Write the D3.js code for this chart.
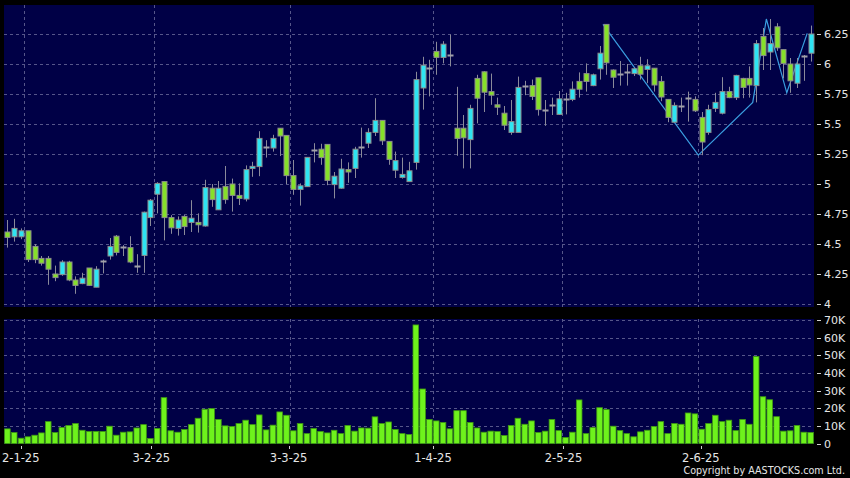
<!DOCTYPE html>
<html><head><meta charset="utf-8">
<script src="https://cdn.jsdelivr.net/npm/d3@7"></script>
<style>html,body{margin:0;padding:0;background:#000;}svg{display:block;}</style>
</head><body><svg id="c" width="850" height="478"></svg>
<script>
const dates = [
"27-12-24","30-12-24","31-12-24",
"2-1-25","3-1-25","6-1-25","7-1-25","8-1-25","9-1-25","10-1-25","13-1-25","14-1-25","15-1-25","16-1-25","17-1-25","20-1-25","21-1-25","22-1-25","23-1-25","24-1-25","27-1-25","28-1-25",
"3-2-25","4-2-25","5-2-25","6-2-25","7-2-25","10-2-25","11-2-25","12-2-25","13-2-25","14-2-25","17-2-25","18-2-25","19-2-25","20-2-25","21-2-25","24-2-25","25-2-25","26-2-25","27-2-25","28-2-25",
"3-3-25","4-3-25","5-3-25","6-3-25","7-3-25","10-3-25","11-3-25","12-3-25","13-3-25","14-3-25","17-3-25","18-3-25","19-3-25","20-3-25","21-3-25","24-3-25","25-3-25","26-3-25","27-3-25","28-3-25","31-3-25",
"1-4-25","2-4-25","3-4-25","7-4-25","8-4-25","9-4-25","10-4-25","11-4-25","14-4-25","15-4-25","16-4-25","17-4-25","22-4-25","23-4-25","24-4-25","25-4-25","28-4-25","29-4-25","30-4-25",
"2-5-25","6-5-25","7-5-25","8-5-25","9-5-25","12-5-25","13-5-25","14-5-25","15-5-25","16-5-25","19-5-25","20-5-25","21-5-25","22-5-25","23-5-25","26-5-25","27-5-25","28-5-25","29-5-25","30-5-25",
"2-6-25","3-6-25","4-6-25","5-6-25","6-6-25","9-6-25","10-6-25","11-6-25","12-6-25","13-6-25","16-6-25","17-6-25","18-6-25","19-6-25","20-6-25","23-6-25","24-6-25"];

const open = [4.60,4.56,4.56,4.61,4.48,4.38,4.38,4.25,4.245,4.35,4.20,4.17,4.30,4.14,4.36,4.40,4.565,4.475,4.47,4.32,
4.405,4.72,4.915,5.02,4.72,4.63,4.73,4.68,4.68,4.65,4.965,4.785,4.98,5.00,4.905,4.875,5.13,5.145,5.305,5.30,
5.465,5.405,5.07,4.955,4.978,5.285,5.29,5.33,4.995,4.965,5.12,5.13,5.305,5.34,5.43,5.53,5.355,5.115,5.055,5.02,
5.18,5.80,5.965,6.105,6.055,6.075,5.465,5.465,5.37,5.88,5.935,5.77,5.66,5.59,5.43,5.43,5.82,5.82,5.885,5.62,
5.655,5.58,5.71,5.705,5.855,5.92,5.82,5.96,6.33,5.95,5.915,5.93,5.92,5.985,5.955,5.965,5.855,5.705,5.515,5.65,
5.715,5.705,5.555,5.43,5.63,5.59,5.77,5.72,5.88,5.88,5.82,6.23,6.10,6.31,6.12,6.00,5.84,6.07,6.09];
const high = [4.70,4.71,4.63,4.61,4.50,4.40,4.40,4.32,4.365,4.36,4.23,4.26,4.30,4.315,4.37,4.55,4.575,4.49,4.565,4.415,
4.77,4.875,5.015,5.02,4.74,4.73,4.74,4.865,4.755,5.035,5.00,5.025,5.15,5.045,5.005,5.155,5.185,5.44,5.365,5.41,
5.465,5.405,5.20,5.005,5.222,5.34,5.335,5.33,5.10,5.21,5.18,5.31,5.47,5.465,5.715,5.53,5.355,5.27,5.22,5.185,
5.935,6.06,6.035,6.185,6.19,6.245,5.81,5.575,5.66,5.91,5.94,5.92,5.72,5.65,5.70,5.895,5.86,5.87,5.885,5.70,
5.72,5.775,5.76,5.855,5.93,6.005,5.92,6.15,6.33,5.955,6.025,6.00,5.97,6.06,6.04,5.965,5.90,5.705,5.68,5.72,
5.77,5.73,5.60,5.66,5.76,5.89,5.81,5.91,5.885,5.98,6.20,6.30,6.375,6.34,6.12,6.05,6.05,6.075,6.32];
const low = [4.47,4.52,4.54,4.35,4.34,4.32,4.16,4.19,4.235,4.19,4.085,4.165,4.15,4.14,4.255,4.37,4.405,4.40,4.34,4.26,
4.26,4.65,4.755,4.53,4.585,4.57,4.575,4.60,4.595,4.645,4.81,4.785,4.835,4.77,4.825,4.855,5.06,5.065,5.22,5.27,
5.233,5.00,4.91,4.82,4.978,5.18,5.16,4.99,4.88,4.96,5.01,5.05,5.22,5.30,5.40,5.325,5.16,5.05,5.045,5.02,
5.12,5.62,5.73,5.91,6.005,5.98,5.235,5.13,5.13,5.505,5.60,5.66,5.575,5.45,5.41,5.43,5.74,5.70,5.57,5.485,
5.575,5.575,5.58,5.69,5.72,5.77,5.815,5.87,5.91,5.80,5.82,5.82,5.90,5.87,5.84,5.77,5.69,5.515,5.51,5.60,
5.52,5.60,5.24,5.41,5.60,5.58,5.715,5.70,5.715,5.72,5.68,5.95,5.95,6.11,5.88,5.76,5.80,5.86,6.02];
const close = [4.555,4.63,4.61,4.37,4.37,4.34,4.29,4.22,4.35,4.20,4.155,4.215,4.155,4.29,4.36,4.48,4.43,4.475,4.35,4.32,
4.765,4.865,5.005,4.72,4.635,4.70,4.645,4.715,4.66,4.97,4.87,4.965,4.87,4.905,4.88,5.12,5.147,5.38,5.305,5.38,
5.40,5.07,4.955,4.985,5.222,5.285,5.22,5.03,5.065,5.125,5.10,5.29,5.305,5.43,5.53,5.36,5.205,5.195,5.08,5.11,
5.87,5.99,5.965,6.055,6.165,6.075,5.38,5.385,5.63,5.715,5.765,5.74,5.64,5.49,5.52,5.805,5.82,5.73,5.62,5.62,
5.655,5.71,5.71,5.79,5.79,5.855,5.91,6.09,6.01,5.89,5.915,5.93,5.96,5.915,5.985,5.825,5.725,5.555,5.655,5.65,
5.715,5.61,5.35,5.62,5.68,5.77,5.72,5.905,5.805,5.825,6.17,6.07,6.17,6.135,6.005,5.86,6.00,6.07,6.25];
const volume = [8300,6200,3000,3800,4700,6000,12400,6200,9000,10200,11300,7500,6800,6800,6800,9800,4700,6400,6600,8800,
10700,2800,8500,26000,7200,6400,7900,10700,14300,19400,19800,13600,10000,9600,11300,13200,10700,16200,7700,10400,
17900,16000,7200,11300,5600,8500,6800,6000,7500,5600,10200,7000,8800,8700,15100,11300,12200,7900,5600,5100,
67200,30900,13600,12800,11900,8300,18600,18600,11900,8800,6400,7000,6800,4500,10200,14300,10900,12800,6200,7000,
13600,7300,3400,6400,24700,5600,9000,20300,19200,9800,7300,5600,3800,6600,7500,9600,12400,5600,11300,10900,
17300,16800,8100,11300,16000,12400,13200,7300,13600,10900,49300,26500,24800,15200,7000,7200,10200,6400,6200];
const priceTicks = [4,4.25,4.5,4.75,5,5.25,5.5,5.75,6,6.25];
const volTicks = [0,10000,20000,30000,40000,50000,60000,70000];
const zigzagIdx = [88,102,110,112,115,118];
const zigzagPrice = [6.33,5.24,5.68,6.375,5.76,6.255];

const svg = d3.select("#c");
const FONT = "DejaVu Sans, Verdana, sans-serif";
const n = dates.length;
const x = d3.scaleBand().domain(d3.range(n)).range([4, 814]);
const xLab = d3.scaleLinear().domain([0, n - 1]).range([0.1, 810.8]);
const yP = d3.scaleLinear().domain([4, 6.5]).range([304, 4]);
const yV = d3.scaleLinear().domain([0, 70000]).range([443.5, 320]);

svg.append("rect").attr("width", 850).attr("height", 478).attr("fill", "#000");
const pTop = 5, pBot = 307, vTop = 319, vBot = 444;
svg.append("rect").attr("x", 4).attr("y", pTop).attr("width", 810).attr("height", pBot - pTop).attr("fill", "#000046");
svg.append("rect").attr("x", 4).attr("y", vTop).attr("width", 810).attr("height", vBot - vTop).attr("fill", "#000046");

const monthIdx = d3.range(1, n).filter(i => dates[i].split("-")[1] !== dates[i - 1].split("-")[1]);
const gridCol = "#56568a";
svg.append("g").selectAll("line").data(priceTicks).join("line")
  .attr("x1", 4).attr("x2", 814).attr("y1", d => Math.round(yP(d)) + 0.5).attr("y2", d => Math.round(yP(d)) + 0.5)
  .attr("stroke", gridCol).attr("stroke-dasharray", "3,3");
svg.append("g").selectAll("line").data(volTicks.filter(d => d > 0)).join("line")
  .attr("x1", 4).attr("x2", 814).attr("y1", d => Math.round(yV(d)) + 0.5).attr("y2", d => Math.round(yV(d)) + 0.5)
  .attr("stroke", gridCol).attr("stroke-dasharray", "3,3");
[[pTop, pBot], [vTop, vBot]].forEach(([a, b]) => {
  svg.append("g").selectAll("line").data(monthIdx).join("line")
    .attr("x1", i => Math.round(x(i)) + 0.5).attr("x2", i => Math.round(x(i)) + 0.5)
    .attr("y1", a).attr("y2", b).attr("stroke", gridCol).attr("stroke-dasharray", "3,3");
});

svg.append("path")
  .datum(zigzagIdx.map((d, k) => [x(d), yP(zigzagPrice[k])]))
  .attr("d", d3.line()).attr("fill", "none").attr("stroke", "#3a9ee0").attr("stroke-width", 1.2);

const cx = i => Math.round(x(i) + x.bandwidth() / 2);
const g = svg.append("g");
const idx = d3.range(n);
g.selectAll("line.w").data(idx).join("line").attr("class", "w")
  .attr("x1", i => cx(i) + 0.5).attr("x2", i => cx(i) + 0.5)
  .attr("y1", i => yP(high[i])).attr("y2", i => yP(low[i]))
  .attr("stroke", "#8a8a9a").attr("stroke-width", 1);
const bw = 5;
g.selectAll("rect.b").data(idx.filter(i => Math.abs(close[i] - open[i]) >= 0.004)).join("rect").attr("class", "b")
  .attr("x", i => cx(i) - 2)
  .attr("y", i => yP(Math.max(open[i], close[i])))
  .attr("width", bw)
  .attr("height", i => Math.max(1, yP(Math.min(open[i], close[i])) - yP(Math.max(open[i], close[i]))))
  .attr("fill", i => close[i] > open[i] ? "#2ee4f2" : "#86e02a")
  .attr("stroke", "#8c8c8c").attr("stroke-width", 1);
g.selectAll("line.d").data(idx.filter(i => Math.abs(close[i] - open[i]) < 0.004)).join("line").attr("class", "d")
  .attr("x1", i => cx(i) - 2.5).attr("x2", i => cx(i) + 3.5)
  .attr("y1", i => Math.round(yP(close[i])) + 0.5).attr("y2", i => Math.round(yP(close[i])) + 0.5)
  .attr("stroke", "#a0a0a8").attr("stroke-width", 2);

svg.append("g").selectAll("rect").data(idx).join("rect")
  .attr("x", i => x(i) + 0.6).attr("width", x.bandwidth() - 1.2)
  .attr("y", i => yV(volume[i])).attr("height", i => yV(0) - yV(volume[i]))
  .attr("fill", "#6ef21c").attr("stroke", "#3f9a12").attr("stroke-width", 0.8);

const txt = "#e6e6e6";
const ra = svg.append("g").attr("font-family", FONT).attr("font-size", 11).attr("fill", txt);
priceTicks.forEach(v => {
  const y = Math.round(yP(v)) + 0.5;
  ra.append("line").attr("x1", 817).attr("x2", 821).attr("y1", y).attr("y2", y).attr("stroke", "#cfcfcf");
  ra.append("text").attr("x", 824).attr("y", y).attr("dy", "0.35em").text(String(v));
});
volTicks.forEach(v => {
  const y = Math.round(yV(v)) + 0.5;
  ra.append("line").attr("x1", 817).attr("x2", 821).attr("y1", y).attr("y2", y).attr("stroke", "#cfcfcf");
  ra.append("text").attr("x", 824).attr("y", y).attr("dy", "0.35em").text(v === 0 ? "0" : (v / 1000) + "K");
});

const da = svg.append("g").attr("font-family", FONT).attr("font-size", 11.5).attr("fill", txt);
monthIdx.forEach(i => {
  const xx = Math.round(xLab(i)) + 0.5;
  da.append("line").attr("x1", xx).attr("x2", xx).attr("y1", 446).attr("y2", 449).attr("stroke", "#cfcfcf");
  da.append("text").attr("x", xLab(i)).attr("y", 458).attr("dy", "0.35em").attr("text-anchor", "middle").text(dates[i]);
});
svg.append("text").attr("x", 845).attr("y", 471).attr("dy", "0.35em").attr("text-anchor", "end")
  .attr("font-family", FONT).attr("font-size", 9.6).attr("fill", txt).text("Copyright by AASTOCKS.com Ltd.");
</script></body></html>
